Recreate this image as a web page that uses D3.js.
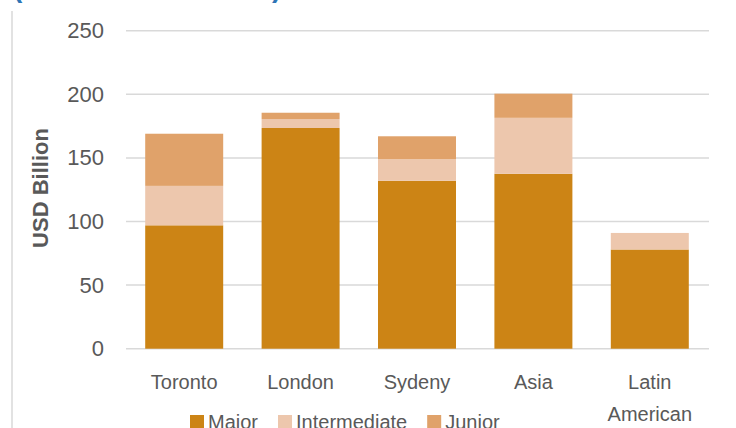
<!DOCTYPE html>
<html>
<head>
<meta charset="utf-8">
<script src="https://cdn.jsdelivr.net/npm/d3@7"></script>
<style>
  body { margin: 0; background: #fff; }
  svg { display: block; font-family: "Liberation Sans", Arial, sans-serif; }
  .grid line { stroke: #d9d9d9; stroke-width: 1.5; }
  .tick text { fill: #595959; }
</style>
</head>
<body>
<div id="vis1"></div>
<script>
// chart data
var categories = ["Toronto", "London", "Sydeny", "Asia", "Latin American"];
var seriesNames = ["Major", "Intermediate", "Junior"];
var major = [97, 173.5, 132, 137.5, 78];
var intermediate = [31, 7, 17, 44, 13];
var junior = [41, 5, 18, 19, 0];
var yTicks = [0, 50, 100, 150, 200, 250];
var colors = ["#cc8415", "#edc7ad", "#e0a26a"];

var width = 736, height = 428;

var rows = categories.map(function(c, i) {
    return { cat: c, Major: major[i], Intermediate: intermediate[i], Junior: junior[i] };
});

var svg = d3.select("#vis1").append("svg")
    .attr("width", width)
    .attr("height", height);

var xScale = d3.scaleBand()
    .domain(categories)
    .range([126, 708])
    .paddingInner(0.33)
    .paddingOuter(0.165);

var yScale = d3.scaleLinear()
    .domain([0, 250])
    .range([348.7, 30.7]);

// cut-off title bits and frame line at the top
svg.append("text")
    .attr("x", 13).attr("y", -3)
    .attr("fill", "#2e75b6")
    .attr("font-size", 28)
    .attr("font-weight", "bold")
    .text("(");
svg.append("text")
    .attr("x", 272).attr("y", -3)
    .attr("fill", "#2e75b6")
    .attr("font-size", 28)
    .attr("font-weight", "bold")
    .text(")");
svg.append("line")
    .attr("x1", 12).attr("x2", 12)
    .attr("y1", 11).attr("y2", height)
    .attr("stroke", "#d9d9d9")
    .attr("stroke-width", 1.5);

// gridlines
svg.append("g")
    .attr("class", "grid")
    .selectAll("line")
    .data(yTicks)
    .enter().append("line")
    .attr("x1", 126).attr("x2", 709)
    .attr("y1", function(d) { return yScale(d); })
    .attr("y2", function(d) { return yScale(d); });

// y axis labels
var yAxis = svg.append("g")
    .attr("transform", "translate(104, 0)")
    .call(d3.axisLeft(yScale).tickValues(yTicks).tickSize(0).tickPadding(0));
yAxis.select(".domain").remove();
yAxis.selectAll("text").attr("font-size", 22).attr("font-family", "Liberation Sans, Arial, sans-serif");

// stacked bars
var stack = d3.stack().keys(seriesNames);
var layers = stack(rows);

svg.selectAll(".layer")
    .data(layers)
    .enter().append("g")
    .attr("class", "layer")
    .attr("fill", function(d, i) { return colors[i]; })
    .selectAll("rect")
    .data(function(d) { return d; })
    .enter().append("rect")
    .attr("x", function(d) { return xScale(d.data.cat); })
    .attr("width", xScale.bandwidth())
    .attr("y", function(d) { return yScale(d[1]); })
    .attr("height", function(d) { return yScale(d[0]) - yScale(d[1]); });

// category labels
var xAxis = svg.append("g")
    .attr("transform", "translate(0, 348.7)")
    .call(d3.axisBottom(xScale).tickSize(0).tickPadding(0));
xAxis.select(".domain").remove();
xAxis.selectAll("text").remove();
xAxis.selectAll(".tick").each(function(d) {
    var t = d3.select(this).append("text")
        .attr("fill", "#595959")
        .attr("font-size", 20)
        .attr("text-anchor", "middle");
    d.split(" ").forEach(function(w, j) {
        t.append("tspan").attr("x", 0).attr("y", 40 + j * 32).text(w);
    });
});

// y axis title
svg.append("text")
    .attr("transform", "translate(48, 188) rotate(-90)")
    .attr("text-anchor", "middle")
    .attr("fill", "#595959")
    .attr("font-size", 22)
    .attr("font-weight", "bold")
    .text("USD Billion");

// legend
var legend = svg.append("g").attr("transform", "translate(190, 415)");
var lx = 0;
seriesNames.forEach(function(name, i) {
    legend.append("rect")
        .attr("x", lx).attr("y", 0)
        .attr("width", 14).attr("height", 14)
        .attr("fill", colors[i]);
    var t = legend.append("text")
        .attr("x", lx + 18).attr("y", 14)
        .attr("fill", "#595959")
        .attr("font-size", 20)
        .text(name);
    lx += 18 + t.node().getComputedTextLength() + 20;
});
</script>
</body>
</html>
